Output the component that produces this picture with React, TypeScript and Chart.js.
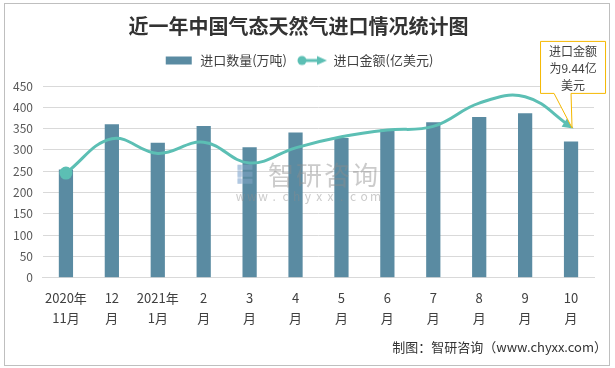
import React, { useEffect, useRef } from 'react';
import { Chart, registerables } from 'chart.js';

Chart.register(...registerables);

const titleText = '近一年中国气态天然气进口情况统计图';
const categories: string[][] = [
  ['2020年', '11月'], ['12', '月'], ['2021年', '1月'], ['2', '月'], ['3', '月'], ['4', '月'],
  ['5', '月'], ['6', '月'], ['7', '月'], ['8', '月'], ['9', '月'], ['10', '月'],
];
const volumeLabel = '进口数量(万吨)';
const amountLabel = '进口金额(亿美元)';
const volume = [254, 360, 317, 356, 306, 341, 328, 348, 365, 377, 386, 320];
const amount = [6.55, 8.7, 7.78, 8.48, 7.18, 8.13, 8.82, 9.24, 9.47, 10.93, 11.33, 9.44];
const yMax = 450;
const yStep = 50;
const y1Max = 12;
const calloutLines = ['进口金额', '为9.44亿', '美元'];
const footerText = '制图：智研咨询（www.chyxx.com）';
const watermarkMain = '智研咨询';
const watermarkSub = 'www.chyxx.com';

const BAR_COLOR = '#5A8BA2';
const LINE_COLOR = '#5CBFB4';
const FONT = '"Noto Sans CJK SC", "Noto Sans", sans-serif';

function makeBarSwatch(): HTMLCanvasElement {
  const c = document.createElement('canvas');
  c.width = 30; c.height = 10;
  const g = c.getContext('2d')!;
  g.fillStyle = BAR_COLOR;
  g.fillRect(2, 1, 26, 8);
  return c;
}

function makeLineSwatch(): HTMLCanvasElement {
  const c = document.createElement('canvas');
  c.width = 30; c.height = 12;
  const g = c.getContext('2d')!;
  g.strokeStyle = LINE_COLOR;
  g.fillStyle = LINE_COLOR;
  g.lineWidth = 3;
  g.beginPath(); g.moveTo(5, 6); g.lineTo(23, 6); g.stroke();
  g.beginPath(); g.arc(5, 6, 4.5, 0, Math.PI * 2); g.fill();
  g.beginPath(); g.moveTo(20, 1.5); g.lineTo(30, 6); g.lineTo(20, 10.5); g.closePath(); g.fill();
  return c;
}

const framePlugin = {
  id: 'frame',
  beforeInit(chart: any) {
    const legend = chart.legend;
    if (legend) {
      const orig = legend.fit.bind(legend);
      legend.fit = function () {
        orig();
        this.height += 9;
      };
    }
  },
  beforeDraw(chart: any) {
    const { ctx, width, height } = chart;
    ctx.save();
    ctx.fillStyle = '#ffffff';
    ctx.fillRect(0, 0, width, height);
    ctx.strokeStyle = '#BFBFBF';
    ctx.lineWidth = 1;
    ctx.strokeRect(4.5, 3.5, width - 10, height - 6);
    ctx.restore();
  },
};

const watermarkPlugin = {
  id: 'watermark',
  afterDatasetsDraw(chart: any) {
    const { ctx, chartArea } = chart;
    const cx = (chartArea.left + chartArea.right) / 2;
    const cy = chartArea.top + (chartArea.bottom - chartArea.top) * 0.463;
    ctx.save();
    ctx.globalAlpha = 0.4;
    ctx.fillStyle = '#8FAFD3';
    const lx = cx - 81;
    ctx.fillRect(lx, cy - 10, 15, 5);
    ctx.fillRect(lx, cy - 3, 15, 5);
    ctx.fillRect(lx, cy + 4, 15, 5);
    ctx.fillStyle = '#7FA6D0';
    ctx.fillRect(lx, cy - 10, 4, 19);
    ctx.globalAlpha = 0.45;
    ctx.fillStyle = '#8C8C8C';
    ctx.font = `26px ${FONT}`;
    ctx.textAlign = 'center';
    ctx.textBaseline = 'middle';
    Array.from(watermarkMain).forEach((ch, i) => ctx.fillText(ch, cx - 37.5 + i * 28, cy));
    ctx.font = `12px ${FONT}`;
    Array.from(watermarkSub).forEach((ch, i) => ctx.fillText(ch, cx - 78 + i * 11.25, cy + 22));
    ctx.restore();
  },
};

const overlayPlugin = {
  id: 'overlay',
  afterDraw(chart: any) {
    const { ctx, width, height } = chart;
    const meta = chart.getDatasetMeta(1);
    const pts = meta.data;
    const last = pts[pts.length - 1];
    ctx.save();
    const px = last.cp1x !== undefined ? last.cp1x : pts[pts.length - 2].x;
    const py = last.cp1y !== undefined ? last.cp1y : pts[pts.length - 2].y;
    const ang = Math.atan2(last.y - py, last.x - px);
    ctx.fillStyle = LINE_COLOR;
    ctx.translate(last.x, last.y);
    ctx.rotate(ang);
    ctx.beginPath();
    ctx.moveTo(3, 0);
    ctx.lineTo(-8, -5);
    ctx.lineTo(-8, 5);
    ctx.closePath();
    ctx.fill();
    ctx.setTransform(1, 0, 0, 1, 0, 0);
    ctx.restore();

    ctx.save();
    const tipX = last.x + 1;
    const tipY = last.y + 1;
    const left = tipX - 31.5;
    const right = tipX + 33.5;
    const top = tipY - 86.5;
    const bottom = tipY - 34.5;
    ctx.beginPath();
    ctx.moveTo(left, top);
    ctx.lineTo(right, top);
    ctx.lineTo(right, bottom);
    ctx.lineTo(tipX - 1, bottom);
    ctx.lineTo(tipX, tipY);
    ctx.lineTo(tipX - 18, bottom);
    ctx.lineTo(left, bottom);
    ctx.closePath();
    ctx.fillStyle = '#ffffff';
    ctx.fill();
    ctx.strokeStyle = '#F5B800';
    ctx.lineWidth = 1;
    ctx.stroke();
    ctx.fillStyle = '#404040';
    ctx.font = `12px ${FONT}`;
    ctx.textAlign = 'center';
    ctx.textBaseline = 'middle';
    const mid = (left + right) / 2;
    calloutLines.forEach((t, i) => ctx.fillText(t, mid, top + 10 + i * 17));

    ctx.font = `13px ${FONT}`;
    ctx.textAlign = 'right';
    ctx.fillStyle = '#333333';
    ctx.fillText(footerText, width - 8, height - 21);
    ctx.restore();
  },
};

export default function App() {
  const ref = useRef<HTMLCanvasElement | null>(null);
  useEffect(() => {
    document.body.style.margin = '0';
    const canvas = ref.current!;
    const barSwatch = makeBarSwatch();
    const lineSwatch = makeLineSwatch();
    const chart = new Chart(canvas, {
      type: 'bar',
      data: {
        labels: categories,
        datasets: [
          {
            type: 'bar',
            label: volumeLabel,
            data: volume,
            backgroundColor: BAR_COLOR,
            barPercentage: 0.31,
            categoryPercentage: 1,
            yAxisID: 'y',
            order: 2,
          },
          {
            type: 'line',
            label: amountLabel,
            data: amount,
            borderColor: LINE_COLOR,
            backgroundColor: LINE_COLOR,
            borderWidth: 3,
            tension: 0.4,
            pointRadius: amount.map((_, i) => (i === 0 ? 5 : 0)),
            pointHoverRadius: 0,
            yAxisID: 'y1',
            order: 1,
          } as any,
        ],
      },
      plugins: [framePlugin, watermarkPlugin, overlayPlugin],
      options: {
        responsive: false,
        animation: false,
        layout: { padding: { top: 3, left: 3, right: 21, bottom: 38 } },
        plugins: {
          title: {
            display: true,
            text: titleText,
            color: '#333333',
            font: { family: FONT, size: 20, weight: 'bold' },
            padding: { top: 11, bottom: 6 },
          },
          legend: {
            display: true,
            labels: {
              color: '#404040',
              font: { family: FONT, size: 13 },
              usePointStyle: true,
              pointStyleWidth: 30,
              boxHeight: 12,
              padding: 10,
              generateLabels: () => [
                { text: volumeLabel, pointStyle: barSwatch as any, fillStyle: BAR_COLOR, strokeStyle: BAR_COLOR, lineWidth: 0, datasetIndex: 0, hidden: false, fontColor: '#404040' },
                { text: amountLabel, pointStyle: lineSwatch as any, fillStyle: LINE_COLOR, strokeStyle: LINE_COLOR, lineWidth: 0, datasetIndex: 1, hidden: false, fontColor: '#404040' },
              ],
            },
          },
          tooltip: { enabled: false },
        },
        scales: {
          x: {
            grid: { display: false },
            border: { display: true, color: '#D9D9D9' },
            ticks: {
              color: '#404040',
              font: { family: FONT, size: 13, lineHeight: 1.55 },
              maxRotation: 0,
              autoSkip: false,
              padding: 2,
            },
          },
          y: {
            min: 0,
            max: yMax,
            ticks: { stepSize: yStep, color: '#595959', font: { family: FONT, size: 12 }, padding: 10 },
            grid: { color: '#D9D9D9', drawTicks: false },
            border: { display: false },
          },
          y1: {
            min: 0,
            max: y1Max,
            display: false,
          },
        },
      } as any,
    });
    return () => chart.destroy();
  }, []);
  return (
    <div style={{ width: 615, height: 368 }}>
      <canvas ref={ref} width={615} height={368} style={{ display: 'block' }} />
    </div>
  );
}
